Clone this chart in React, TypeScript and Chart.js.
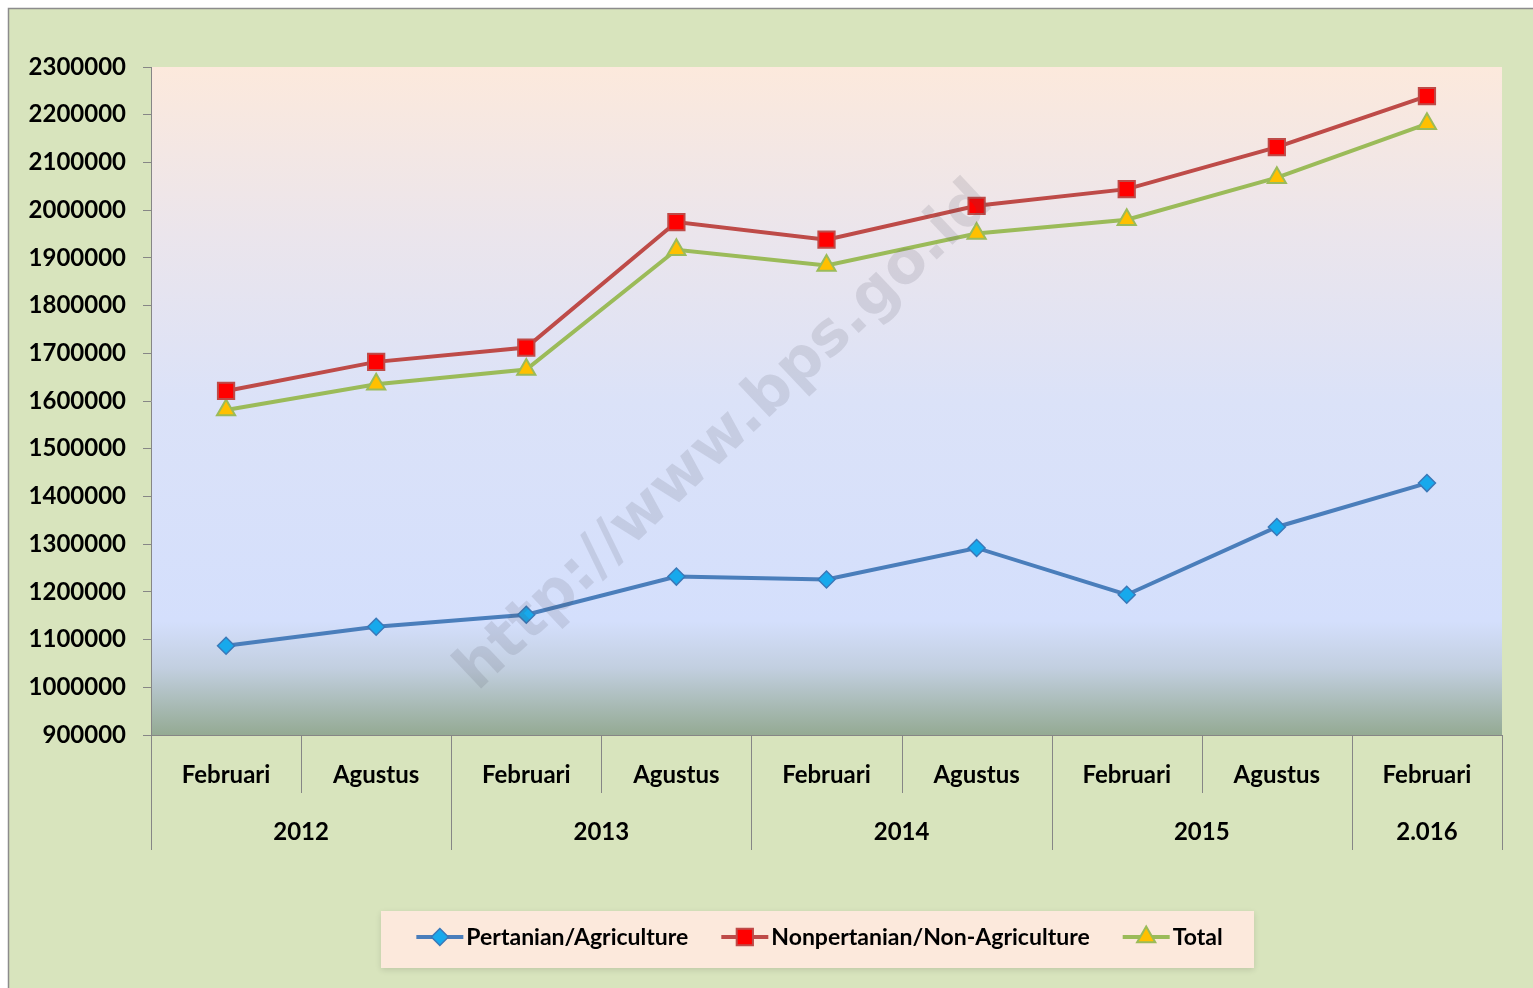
import React, { useEffect, useRef } from "react";
import { Chart, registerables } from "chart.js";

Chart.register(...registerables);

const months = ["Februari", "Agustus", "Februari", "Agustus", "Februari", "Agustus", "Februari", "Agustus", "Februari"];
const years = ["2012", "2013", "2014", "2015", "2.016"];
const yearSpans = [2, 2, 2, 2, 1];
const pertanian = [1087000, 1127000, 1152000, 1232000, 1226000, 1292000, 1194000, 1336000, 1428000];
const nonPertanian = [1621000, 1682000, 1712000, 1975000, 1938000, 2009000, 2044000, 2132000, 2239000];
const total = [1581000, 1635000, 1666000, 1917000, 1884000, 1951000, 1980000, 2068000, 2181000];
const seriesNames = ["Pertanian/Agriculture", "Nonpertanian/Non-Agriculture", "Total"];
const yMin = 900000;
const yMax = 2300000;
const yStep = 100000;
const watermark = "http://www.bps.go.id";

const W = 1533;
const H = 988;
const FONT = "Lato, 'Noto Sans', sans-serif";

function drawMarker(ctx: CanvasRenderingContext2D, style: string, x: number, y: number, r: number, fill: string, stroke: string, bw: number) {
  ctx.save();
  ctx.beginPath();
  if (style === "rectRot") {
    ctx.moveTo(x, y - r);
    ctx.lineTo(x + r, y);
    ctx.lineTo(x, y + r);
    ctx.lineTo(x - r, y);
    ctx.closePath();
  } else if (style === "rect") {
    const s = r * Math.SQRT1_2;
    ctx.rect(x - s, y - s, 2 * s, 2 * s);
  } else {
    ctx.moveTo(x, y - r);
    ctx.lineTo(x + r * Math.sin(Math.PI / 3), y + r * 0.5);
    ctx.lineTo(x - r * Math.sin(Math.PI / 3), y + r * 0.5);
    ctx.closePath();
  }
  ctx.fillStyle = fill;
  ctx.fill();
  ctx.lineWidth = bw;
  ctx.strokeStyle = stroke;
  ctx.stroke();
  ctx.restore();
}

const decorPlugin = {
  id: "decor",
  beforeDraw(chart: any) {
    const { ctx, chartArea: a } = chart;
    const w = chart.width;
    const h = chart.height;
    ctx.save();
    ctx.fillStyle = "#ffffff";
    ctx.fillRect(0, 0, w, h);
    ctx.fillStyle = "#d8e4bd";
    ctx.fillRect(8, 8, w - 8, h - 8);
    ctx.strokeStyle = "#8c8c8c";
    ctx.lineWidth = 1.5;
    ctx.beginPath();
    ctx.moveTo(8.5, h);
    ctx.lineTo(8.5, 8.5);
    ctx.lineTo(w, 8.5);
    ctx.stroke();
    const g = ctx.createLinearGradient(0, a.top, 0, a.bottom);
    g.addColorStop(0, "#fce9dc");
    g.addColorStop(0.25, "#ebe5ec");
    g.addColorStop(0.5, "#dbe2f8");
    g.addColorStop(0.83, "#d4dffc");
    g.addColorStop(0.9, "#c2cfe0");
    g.addColorStop(1, "#94aa93");
    ctx.fillStyle = g;
    ctx.fillRect(a.left, a.top, a.right - a.left, a.bottom - a.top);
    ctx.restore();
  },
  afterDatasetsDraw(chart: any) {
    const { ctx, chartArea: a } = chart;
    ctx.save();
    ctx.translate((a.left + a.right) / 2 - 101, (a.top + a.bottom) / 2 + 36);
    ctx.rotate(-Math.PI / 4 + 0.03);
    ctx.font = "bold 60px 'DejaVu Sans', sans-serif";
    ctx.fillStyle = "rgba(80,80,95,0.14)";
    ctx.textAlign = "center";
    ctx.textBaseline = "middle";
    ctx.fillText(watermark, 0, 0);
    ctx.restore();
  },
  afterDraw(chart: any) {
    const { ctx, chartArea: a } = chart;
    const x = chart.scales.x;
    const n = months.length;
    const half = (x.getPixelForValue(1) - x.getPixelForValue(0)) / 2;
    ctx.save();
    ctx.strokeStyle = "#868686";
    ctx.lineWidth = 1;
    const yearBoundaries = new Set<number>();
    let acc = 0;
    yearBoundaries.add(0);
    yearSpans.forEach((s) => {
      acc += s;
      yearBoundaries.add(acc);
    });
    for (let k = 0; k <= n; k++) {
      const px = Math.round(x.getPixelForValue(k) - half) + 0.5;
      const long = yearBoundaries.has(k);
      ctx.beginPath();
      ctx.moveTo(px, a.bottom);
      ctx.lineTo(px, long ? a.bottom + 115 : a.bottom + 58);
      ctx.stroke();
    }
    ctx.fillStyle = "#000";
    ctx.font = `bold 24px ${FONT}`;
    ctx.textAlign = "center";
    ctx.textBaseline = "middle";
    months.forEach((m, i) => {
      ctx.fillText(m, x.getPixelForValue(i), a.bottom + 40);
    });
    let start = 0;
    years.forEach((yl, j) => {
      const end = start + yearSpans[j] - 1;
      const cx = (x.getPixelForValue(start) + x.getPixelForValue(end)) / 2;
      ctx.fillText(yl, cx, a.bottom + 97);
      start = end + 1;
    });
    ctx.font = `bold 23px ${FONT}`;
    const lineLen = 47;
    const gapText = 3;
    const itemGap = 33;
    const widths = chart.data.datasets.map((d: any) => ctx.measureText(d.label).width);
    const contentW = widths.reduce((s: number, v: number) => s + v + lineLen + gapText, 0) + itemGap * (widths.length - 1);
    const boxL = 381;
    const boxR = 1254;
    const boxT = 911;
    const boxB = 968;
    ctx.save();
    ctx.shadowColor = "rgba(0,0,0,0.12)";
    ctx.shadowBlur = 6;
    ctx.shadowOffsetY = 2;
    ctx.fillStyle = "#fce9dc";
    ctx.fillRect(boxL, boxT, boxR - boxL, boxB - boxT);
    ctx.restore();
    let lx = (boxL + boxR) / 2 - contentW / 2 + 2;
    const ly = 937;
    chart.data.datasets.forEach((d: any, i: number) => {
      ctx.strokeStyle = d.borderColor;
      ctx.lineWidth = 4;
      ctx.beginPath();
      ctx.moveTo(lx, ly);
      ctx.lineTo(lx + lineLen, ly);
      ctx.stroke();
      drawMarker(ctx, d.pointStyle, lx + lineLen / 2, ly, d.pointRadius, d.pointBackgroundColor, d.pointBorderColor, d.pointBorderWidth);
      ctx.fillStyle = "#000";
      ctx.textAlign = "left";
      ctx.fillText(d.label, lx + lineLen + gapText, ly + 1);
      lx += lineLen + gapText + widths[i] + itemGap;
    });
    ctx.restore();
  },
};

export default function App() {
  const ref = useRef<HTMLCanvasElement | null>(null);
  useEffect(() => {
    if (!ref.current) return;
    const chart = new Chart(ref.current, {
      type: "line",
      data: {
        labels: months,
        datasets: [
          {
            label: seriesNames[0],
            data: pertanian,
            borderColor: "#4a7ebb",
            borderWidth: 4,
            pointStyle: "rectRot",
            pointRadius: 8.5,
            pointBackgroundColor: "#17a9ec",
            pointBorderColor: "#3a78b8",
            pointBorderWidth: 1.5,
            tension: 0,
          },
          {
            label: seriesNames[1],
            data: nonPertanian,
            borderColor: "#be4b48",
            borderWidth: 4,
            pointStyle: "rect",
            pointRadius: 11.5,
            pointBackgroundColor: "#ff0000",
            pointBorderColor: "#be4b48",
            pointBorderWidth: 2,
            tension: 0,
          },
          {
            label: seriesNames[2],
            data: total,
            borderColor: "#9bbb59",
            borderWidth: 4,
            pointStyle: "triangle",
            pointRadius: 10.5,
            pointBackgroundColor: "#ffc000",
            pointBorderColor: "#9bbb59",
            pointBorderWidth: 2,
            tension: 0,
          },
        ],
      },
      options: {
        responsive: false,
        animation: false,
        devicePixelRatio: 1,
        layout: { padding: { top: 67, right: 31, bottom: 0, left: 0 } },
        plugins: {
          legend: { display: false },
          tooltip: { enabled: false },
        },
        scales: {
          x: {
            type: "category",
            offset: true,
            grid: { display: false },
            ticks: { display: false },
            border: { display: true, color: "#868686", width: 1 },
            afterFit: (s: any) => {
              s.height = 253;
            },
          },
          y: {
            min: yMin,
            max: yMax,
            ticks: {
              stepSize: yStep,
              color: "#000",
              font: { family: FONT, size: 24, weight: "bold" },
              padding: 17,
              callback: (v: any) => String(v),
            },
            grid: { display: true, drawOnChartArea: false, drawTicks: true, tickLength: 8, color: "#868686" },
            border: { display: true, color: "#868686", width: 1 },
            afterFit: (s: any) => {
              s.width = 151;
            },
          },
        },
      },
      plugins: [decorPlugin],
    } as any);
    return () => chart.destroy();
  }, []);
  return (
    <div style={{ position: "fixed", left: 0, top: 0, width: W, height: H, background: "#fff" }}>
      <canvas ref={ref} width={W} height={H} style={{ display: "block", width: W, height: H }} />
    </div>
  );
}
